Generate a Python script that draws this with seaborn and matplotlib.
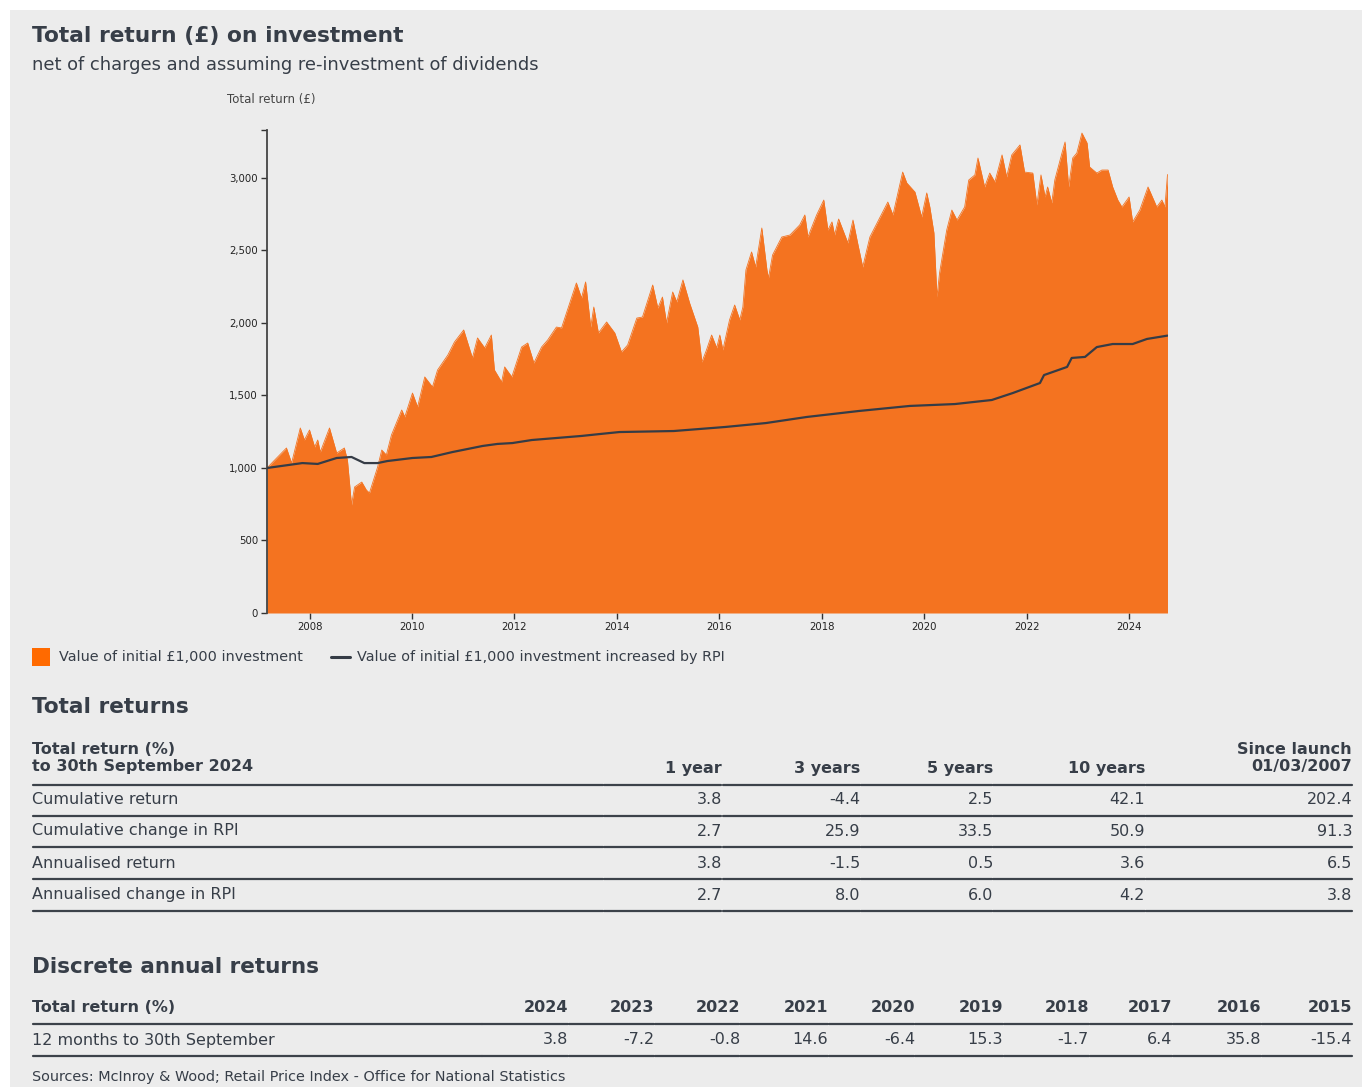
import matplotlib
matplotlib.use("Agg")
import matplotlib.pyplot as plt
import seaborn as sns
from matplotlib.patches import Rectangle
from matplotlib.lines import Line2D

# Fund value of initial 1,000
fund_year = [2007.17, 2007.32, 2007.55, 2007.65, 2007.82, 2007.90, 2008.00, 2008.10, 2008.16, 2008.21,
             2008.39, 2008.53, 2008.68, 2008.74, 2008.82, 2008.88, 2009.02, 2009.11, 2009.17, 2009.33,
             2009.41, 2009.50, 2009.60, 2009.80, 2009.86, 2010.01, 2010.11, 2010.25, 2010.40, 2010.50,
             2010.70, 2010.83, 2011.01, 2011.18, 2011.28, 2011.42, 2011.55, 2011.61, 2011.75, 2011.81,
             2011.95, 2012.14, 2012.26, 2012.38, 2012.53, 2012.65, 2012.82, 2012.92, 2013.08, 2013.21,
             2013.31, 2013.39, 2013.49, 2013.55, 2013.64, 2013.80, 2013.96, 2014.09, 2014.21, 2014.39,
             2014.50, 2014.70, 2014.80, 2014.89, 2014.97, 2015.09, 2015.17, 2015.29, 2015.42, 2015.58,
             2015.66, 2015.75, 2015.85, 2015.95, 2016.01, 2016.07, 2016.20, 2016.30, 2016.40, 2016.46,
             2016.52, 2016.63, 2016.71, 2016.83, 2016.93, 2016.96, 2017.04, 2017.22, 2017.38, 2017.57,
             2017.67, 2017.73, 2017.90, 2018.04, 2018.12, 2018.20, 2018.25, 2018.33, 2018.51, 2018.61,
             2018.70, 2018.80, 2018.94, 2019.13, 2019.29, 2019.39, 2019.58, 2019.66, 2019.82, 2019.95,
             2020.05, 2020.11, 2020.19, 2020.25, 2020.30, 2020.44, 2020.54, 2020.64, 2020.79, 2020.87,
             2020.99, 2021.05, 2021.18, 2021.28, 2021.38, 2021.52, 2021.61, 2021.71, 2021.87, 2021.96,
             2022.12, 2022.20, 2022.28, 2022.36, 2022.41, 2022.49, 2022.55, 2022.69, 2022.75, 2022.82,
             2022.90, 2022.98, 2023.08, 2023.18, 2023.23, 2023.37, 2023.47, 2023.59, 2023.68, 2023.78,
             2023.86, 2024.00, 2024.07, 2024.21, 2024.37, 2024.54, 2024.64, 2024.70, 2024.75]
fund_value = [1000, 1055, 1138, 1034, 1276, 1193, 1262, 1145, 1193, 1110,
              1276, 1103, 1138, 1055, 745, 869, 903, 848, 828, 1007,
              1124, 1090, 1228, 1400, 1352, 1517, 1421, 1628, 1559, 1676,
              1779, 1869, 1952, 1759, 1897, 1828, 1917, 1676, 1593, 1697,
              1628, 1834, 1862, 1724, 1834, 1883, 1972, 1966, 2138, 2276,
              2172, 2283, 1972, 2110, 1931, 2007, 1931, 1800, 1848, 2034,
              2041, 2262, 2103, 2179, 2000, 2214, 2145, 2297, 2138, 1972,
              1731, 1814, 1917, 1828, 1917, 1814, 2021, 2124, 2021, 2110,
              2366, 2490, 2386, 2655, 2366, 2310, 2469, 2593, 2607, 2676,
              2745, 2593, 2745, 2848, 2641, 2697, 2607, 2717, 2552, 2710,
              2552, 2386, 2593, 2724, 2834, 2745, 3041, 2966, 2903, 2731,
              2897, 2800, 2621, 2179, 2345, 2641, 2779, 2710, 2800, 2986,
              3021, 3138, 2938, 3034, 2972, 3159, 3007, 3159, 3228, 3041,
              3034, 2814, 3021, 2869, 2938, 2828, 2986, 3172, 3248, 2938,
              3138, 3172, 3310, 3241, 3076, 3034, 3055, 3055, 2938, 2848,
              2800, 2869, 2697, 2779, 2938, 2800, 2848, 2800, 3024]

# Initial 1,000 increased by RPI
rpi_year = [2007.17, 2007.86, 2008.16, 2008.53, 2008.82, 2009.07, 2009.33, 2009.52, 2010.01, 2010.38,
            2010.79, 2011.38, 2011.67, 2011.96, 2012.34, 2013.31, 2013.66, 2014.05, 2015.11, 2016.12,
            2016.91, 2017.71, 2018.72, 2019.72, 2020.60, 2021.32, 2021.73, 2022.26, 2022.34, 2022.79,
            2022.88, 2023.14, 2023.37, 2023.68, 2024.07, 2024.35, 2024.75]
rpi_value = [1000, 1034, 1028, 1069, 1076, 1034, 1034, 1048, 1069, 1076,
             1110, 1152, 1166, 1172, 1193, 1221, 1234, 1248, 1255, 1283,
             1310, 1352, 1393, 1428, 1441, 1469, 1517, 1586, 1641, 1697,
             1759, 1766, 1834, 1855, 1855, 1890, 1913]

x_ticks = [2008, 2010, 2012, 2014, 2016, 2018, 2020, 2022, 2024]
y_ticks = [0, 500, 1000, 1500, 2000, 2500, 3000]

# Total returns table
period_cols = ["1 year", "3 years", "5 years", "10 years", "Since launch\n01/03/2007"]
row_labels = ["Cumulative return", "Cumulative change in RPI", "Annualised return", "Annualised change in RPI"]
cumulative_return = ["3.8", "-4.4", "2.5", "42.1", "202.4"]
cumulative_rpi = ["2.7", "25.9", "33.5", "50.9", "91.3"]
annualised_return = ["3.8", "-1.5", "0.5", "3.6", "6.5"]
annualised_rpi = ["2.7", "8.0", "6.0", "4.2", "3.8"]

# Discrete annual returns
disc_years = ["2024", "2023", "2022", "2021", "2020", "2019", "2018", "2017", "2016", "2015"]
disc_values = ["3.8", "-7.2", "-0.8", "14.6", "-6.4", "15.3", "-1.7", "6.4", "35.8", "-15.4"]

ORANGE = "#f47320"
DARK = "#353c46"
TEXT = "#373e48"
BG = "#ececec"

W, H = 1362, 1087
sns.set_theme(style="white")
plt.rcParams["font.family"] = ["DejaVu Sans"]

fig = plt.figure(figsize=(W / 100, H / 100), dpi=100, facecolor="white")


def fx(x):
    return x / W


def fy(y):
    return 1 - y / H


fig.add_artist(Rectangle((fx(10), 0), 1 - fx(10), fy(10), transform=fig.transFigure,
                         facecolor=BG, edgecolor="none", zorder=-10))

ax = fig.add_axes([fx(267), fy(613), fx(1168) - fx(267), fy(130) - fy(613)])
ax.set_facecolor("none")

ax.fill_between(fund_year, 0, fund_value, color=ORANGE, linewidth=0, zorder=1)
sns.lineplot(x=fund_year, y=fund_value, color=ORANGE, linewidth=0.6, ax=ax, zorder=2)
sns.lineplot(x=rpi_year, y=rpi_value, color=DARK, linewidth=1.6, ax=ax, zorder=3)

ax.set_xlim(2007.17, 2024.76)
ax.set_ylim(0, 3331)
ax.set_xticks(x_ticks)
ax.set_xticklabels([str(t) for t in x_ticks])
ax.set_yticks(y_ticks)
ax.set_yticklabels([f"{t:,}" for t in y_ticks])
ax.set_yticks([3331], minor=True)
ax.tick_params(axis="both", which="both", direction="out", length=4.5, width=1,
               color="#333333", labelsize=7.3, labelcolor="#222222", pad=2,
               left=True, bottom=True)
for s in ["top", "right", "bottom"]:
    ax.spines[s].set_visible(False)
ax.spines["left"].set_color("#444444")
ax.spines["left"].set_linewidth(1.3)
ax.set_xlabel("")
ax.set_ylabel("")
ax.grid(False)

# titles
fig.text(fx(32), fy(36), "Total return (£) on investment", fontsize=15.7, fontweight="bold",
         color=TEXT, va="center", ha="left")
fig.text(fx(32), fy(65), "net of charges and assuming re-investment of dividends", fontsize=12.9,
         color=TEXT, va="center", ha="left")
fig.text(fx(227), fy(99), "Total return (£)", fontsize=8.5, color="#444444", va="center", ha="left")

# legend
fig.add_artist(Rectangle((fx(32), fy(666)), fx(50) - fx(32), fy(648) - fy(666),
                         transform=fig.transFigure, facecolor="#ff6a00", edgecolor="none"))
fig.text(fx(59), fy(657), "Value of initial £1,000 investment", fontsize=10.4, color=TEXT,
         va="center", ha="left")
fig.add_artist(Line2D([fx(331), fx(350)], [fy(657), fy(657)], transform=fig.transFigure,
                      color=DARK, linewidth=2.2))
fig.text(fx(357), fy(657), "Value of initial £1,000 investment increased by RPI", fontsize=10.4,
         color=TEXT, va="center", ha="left")


def hline_cells(y, edges):
    for a, b in zip(edges[:-1], edges[1:]):
        fig.add_artist(Line2D([fx(a + 0.5), fx(b - 0.5)], [fy(y), fy(y)], transform=fig.transFigure,
                              color="#3c424a", linewidth=1.6))


# Total returns table
fig.text(fx(32), fy(707), "Total returns", fontsize=15.6, fontweight="bold", color=TEXT,
         va="center", ha="left")
col_right = [722, 860, 993, 1145, 1352]
edges = [32, 603] + col_right
fig.text(fx(32), fy(758), "Total return (%)\nto 30th September 2024", fontsize=11.5,
         fontweight="bold", color=TEXT, va="center", ha="left", linespacing=1.25)
for c, xr in zip(period_cols, col_right):
    fig.text(fx(xr), fy(768) if "\n" not in c else fy(758), c, fontsize=11.5, fontweight="bold",
             color=TEXT, va="center", ha="right", linespacing=1.25, multialignment="right")
hline_cells(785, edges)
rows = [cumulative_return, cumulative_rpi, annualised_return, annualised_rpi]
row_y = [800, 831, 863, 895]
for lab, vals, y in zip(row_labels, rows, row_y):
    fig.text(fx(32), fy(y), lab, fontsize=11.5, color=TEXT, va="center", ha="left")
    for v, xr in zip(vals, col_right):
        fig.text(fx(xr), fy(y), v, fontsize=11.5, color=TEXT, va="center", ha="right")
    hline_cells(y + 16, edges)

# Discrete annual returns
fig.text(fx(32), fy(967), "Discrete annual returns", fontsize=15.5, fontweight="bold", color=TEXT,
         va="center", ha="left")
disc_right = [568, 654, 740, 828, 915, 1003, 1089, 1172, 1261, 1352]
disc_edges = [32, 482] + disc_right
fig.text(fx(32), fy(1008), "Total return (%)", fontsize=11.5, fontweight="bold", color=TEXT,
         va="center", ha="left")
for yr, xr in zip(disc_years, disc_right):
    fig.text(fx(xr), fy(1008), yr, fontsize=11.5, fontweight="bold", color=TEXT,
             va="center", ha="right")
hline_cells(1024, disc_edges)
fig.text(fx(32), fy(1040), "12 months to 30th September", fontsize=11.5, color=TEXT,
         va="center", ha="left")
for v, xr in zip(disc_values, disc_right):
    fig.text(fx(xr), fy(1040), v, fontsize=11.5, color=TEXT, va="center", ha="right")
hline_cells(1056, disc_edges)

fig.text(fx(32), fy(1077), "Sources: McInroy & Wood; Retail Price Index - Office for National Statistics",
         fontsize=10.4, color=TEXT, va="center", ha="left")

fig.savefig("out.png", dpi=100, facecolor="white")
